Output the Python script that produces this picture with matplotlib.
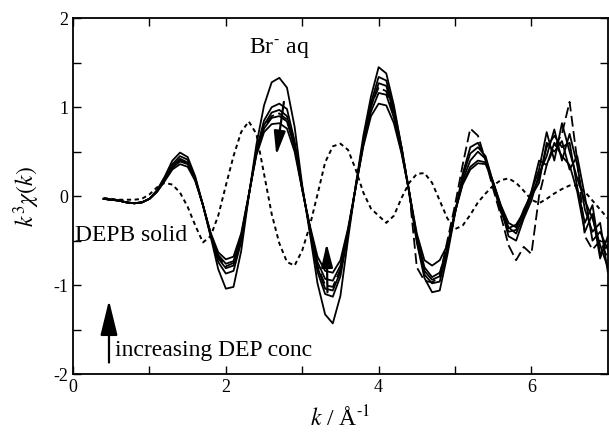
import matplotlib
matplotlib.use("Agg")
import matplotlib.pyplot as plt
from matplotlib.ticker import MultipleLocator, FixedLocator

plt.rcParams.update({
    "font.family": ["Liberation Serif", "DejaVu Serif"],
    "mathtext.fontset": "stix",
    "axes.unicode_minus": False,
    "font.size": 13,
})

# ── k^3 chi(k) spectra, sampled every 0.1 1/Å ────────────────────────────────
k = [0.4, 0.5, 0.6, 0.7, 0.8, 0.9, 1.0, 1.1, 1.2, 1.3, 1.4, 1.5, 1.6, 1.7, 1.8, 1.9,
     2.0, 2.1, 2.2, 2.3, 2.4, 2.5, 2.6, 2.7, 2.8, 2.9, 3.0, 3.1, 3.2, 3.3, 3.4, 3.5,
     3.6, 3.7, 3.8, 3.9, 4.0, 4.1, 4.2, 4.3, 4.4, 4.5, 4.6, 4.7, 4.8, 4.9, 5.0, 5.1,
     5.2, 5.3, 5.4, 5.5, 5.6, 5.7, 5.8, 5.9, 6.0, 6.1, 6.2, 6.3, 6.4, 6.5, 6.6, 6.7,
     6.8, 6.9, 7.0]

br_aq = [-0.03, -0.04, -0.05, -0.07, -0.08, -0.07, -0.03, 0.07, 0.22, 0.40, 0.49, 0.44,
         0.22, -0.10, -0.45, -0.82, -1.04, -1.02, -0.62, 0.00, 0.58, 1.02, 1.28, 1.33,
         1.22, 0.78, 0.12, -0.42, -0.98, -1.33, -1.43, -1.12, -0.48, 0.12, 0.68, 1.12,
         1.45, 1.38, 1.02, 0.55, 0.04, -0.52, -0.92, -1.08, -1.06, -0.66, -0.20, 0.25,
         0.55, 0.60, 0.42, 0.12, -0.18, -0.36, -0.32, -0.18, 0.05, 0.30, 0.72, 0.40,
         0.82, 0.50, 0.20, -0.05, -0.25, -0.55, -0.80]

mix_1 = [-0.03, -0.04, -0.05, -0.07, -0.08, -0.07, -0.03, 0.06, 0.20, 0.36, 0.45, 0.41,
         0.20, -0.10, -0.44, -0.74, -0.87, -0.84, -0.52, 0.00, 0.52, 0.85, 1.00, 1.04,
         0.98, 0.62, 0.10, -0.38, -0.85, -1.10, -1.13, -0.90, -0.42, 0.10, 0.62, 1.05,
         1.34, 1.30, 0.98, 0.55, 0.05, -0.50, -0.88, -0.98, -0.96, -0.62, -0.18, 0.22,
         0.48, 0.55, 0.45, 0.15, -0.15, -0.40, -0.38, -0.15, 0.02, 0.20, 0.55, 0.68,
         0.55, 0.60, 0.10, -0.30, -0.10, -0.65, -0.55]

mix_2 = [-0.03, -0.04, -0.05, -0.07, -0.08, -0.07, -0.03, 0.06, 0.19, 0.34, 0.42, 0.38,
         0.19, -0.10, -0.43, -0.70, -0.81, -0.78, -0.48, 0.01, 0.50, 0.80, 0.94, 0.97,
         0.90, 0.58, 0.08, -0.36, -0.80, -1.04, -1.06, -0.85, -0.40, 0.10, 0.60, 1.00,
         1.27, 1.24, 0.94, 0.52, 0.05, -0.48, -0.84, -0.94, -0.90, -0.60, -0.18, 0.18,
         0.40, 0.50, 0.42, 0.15, -0.12, -0.45, -0.50, -0.25, -0.05, 0.25, 0.45, 0.75,
         0.40, 0.70, 0.35, -0.15, -0.40, -0.30, -0.85]

mix_3 = [-0.03, -0.04, -0.05, -0.07, -0.08, -0.07, -0.03, 0.05, 0.18, 0.32, 0.39, 0.36,
         0.18, -0.10, -0.42, -0.66, -0.76, -0.73, -0.45, 0.01, 0.48, 0.76, 0.88, 0.90,
         0.84, 0.55, 0.08, -0.35, -0.74, -0.93, -0.95, -0.78, -0.38, 0.10, 0.58, 0.95,
         1.16, 1.14, 0.88, 0.50, 0.05, -0.45, -0.80, -0.91, -0.86, -0.58, -0.18, 0.15,
         0.33, 0.40, 0.38, 0.15, -0.12, -0.35, -0.42, -0.22, 0.00, 0.15, 0.60, 0.50,
         0.62, 0.30, 0.45, 0.00, -0.50, -0.40, -0.60]

mix_4 = [-0.03, -0.04, -0.05, -0.07, -0.08, -0.07, -0.03, 0.05, 0.17, 0.30, 0.36, 0.33,
         0.17, -0.10, -0.41, -0.63, -0.71, -0.68, -0.42, 0.02, 0.46, 0.72, 0.81, 0.82,
         0.76, 0.50, 0.07, -0.33, -0.68, -0.84, -0.86, -0.72, -0.36, 0.10, 0.56, 0.90,
         1.04, 1.02, 0.82, 0.48, 0.05, -0.42, -0.72, -0.78, -0.72, -0.55, -0.18, 0.13,
         0.30, 0.37, 0.36, 0.16, -0.10, -0.30, -0.35, -0.20, 0.05, 0.40, 0.35, 0.60,
         0.45, 0.35, 0.05, -0.40, -0.20, -0.70, -0.45]

mix_dash = [-0.03, -0.04, -0.05, -0.07, -0.08, -0.07, -0.03, 0.05, 0.18, 0.33, 0.40, 0.37,
            0.18, -0.10, -0.42, -0.68, -0.79, -0.75, -0.46, 0.01, 0.49, 0.78, 0.90, 0.93,
            0.86, 0.56, 0.08, -0.36, -0.78, -1.00, -1.02, -0.82, -0.40, 0.12, 0.62, 1.02,
            1.22, 1.18, 0.92, 0.55, 0.05, -0.80, -0.95, -0.97, -0.90, -0.50, -0.10, 0.35,
            0.76, 0.68, 0.40, 0.08, -0.22, -0.55, -0.72, -0.57, -0.65, 0.00, 0.35, 0.55,
            0.70, 1.06, 0.40, -0.45, -0.60, -0.50, -0.70]

depb_solid = [-0.02, -0.03, -0.04, -0.04, -0.04, -0.03, 0.02, 0.10, 0.15, 0.13, 0.04, -0.12,
              -0.33, -0.52, -0.45, -0.22, 0.12, 0.45, 0.72, 0.84, 0.70, 0.25, -0.20, -0.53,
              -0.74, -0.78, -0.61, -0.33, 0.02, 0.38, 0.56, 0.59, 0.52, 0.30, 0.04, -0.14,
              -0.22, -0.30, -0.22, -0.02, 0.15, 0.25, 0.26, 0.15, -0.05, -0.25, -0.37, -0.33,
              -0.21, -0.07, 0.03, 0.12, 0.18, 0.20, 0.15, 0.06, -0.04, -0.08, -0.03, 0.03,
              0.08, 0.12, 0.12, 0.05, -0.05, -0.15, -0.25]

fig = plt.figure(figsize=(6.09, 4.34), dpi=100)
ax = fig.add_axes([0.120, 0.138, 0.878, 0.820])

for series in [br_aq, mix_1, mix_2, mix_3, mix_4]:
    ax.plot(k, series, color="black", linewidth=1.3)
ax.plot(k, mix_dash, color="black", linewidth=1.3, linestyle=(0, (6, 2.5)))
ax.plot(k, depb_solid, color="black", linewidth=1.4, linestyle=(0, (2.2, 1.8)))

# arrows showing the trend with DEP concentration
head = dict(arrowstyle="-|>,head_length=0.9,head_width=0.22", color="black",
            linewidth=1.6, shrinkA=0, shrinkB=0, mutation_scale=16)
ax.annotate("", xy=(2.66, 0.46), xytext=(2.76, 1.06), arrowprops=head)
ax.annotate("", xy=(3.32, -0.53), xytext=(3.33, -1.08), arrowprops=head)
big = dict(head, mutation_scale=24)
ax.annotate("", xy=(0.47, -1.17), xytext=(0.47, -1.87), arrowprops=big)

ax.text(2.70, 1.67, "Br$^{\\text{-}}$ aq", fontsize=17, ha="center", va="center")
ax.text(0.02, -0.44, "DEPB solid", fontsize=17, ha="left", va="center")
ax.text(0.55, -1.74, "increasing DEP conc", fontsize=17, ha="left", va="center")

ax.set_xlim(0, 7)
ax.set_ylim(-2, 2)
ax.xaxis.set_major_locator(FixedLocator([0, 2, 4, 6]))
ax.xaxis.set_minor_locator(FixedLocator([1, 3, 5]))
ax.yaxis.set_major_locator(MultipleLocator(1))
ax.yaxis.set_minor_locator(MultipleLocator(0.5))
ax.tick_params(which="both", direction="in", top=True, right=True,
               length=6, width=1.0, labelsize=13)
for sp in ax.spines.values():
    sp.set_linewidth(1.3)

ax.set_xlabel("$k$ / Å$^{\\text{-1}}$", fontsize=17, labelpad=7)
ax.set_ylabel("$k^3\\chi(k)$", fontsize=17, labelpad=8)

fig.savefig("out.png", dpi=100)
